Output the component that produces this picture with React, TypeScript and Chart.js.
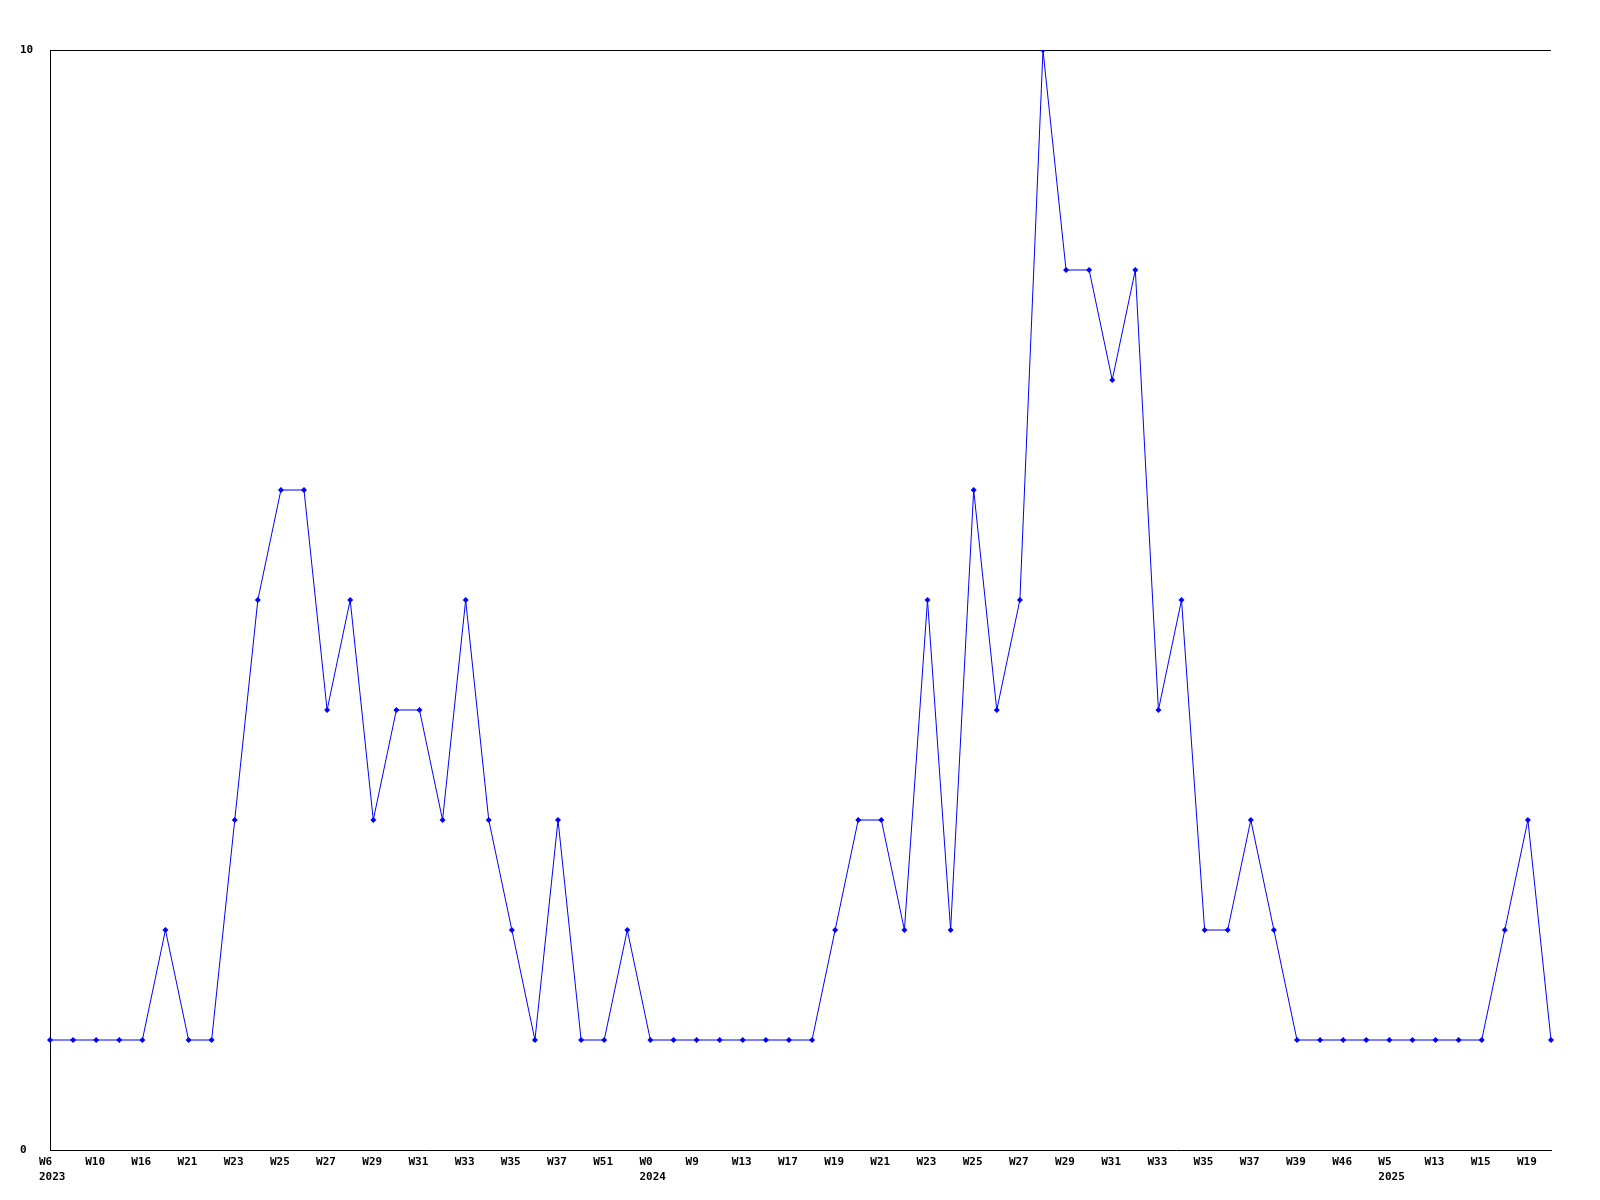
import React, { useEffect, useRef } from "react";
import { Chart, registerables } from "chart.js";

Chart.register(...registerables);

const weekLabels = ["W6","","W10","","W16","","W21","","W23","","W25","","W27","","W29","","W31","","W33","","W35","","W37","","W51","","W0","","W9","","W13","","W17","","W19","","W21","","W23","","W25","","W27","","W29","","W31","","W33","","W35","","W37","","W39","","W46","","W5","","W13","","W15","","W19",""];
const yearLabels: Record<number, string> = { 0: "2023", 26: "2024", 58: "2025" };
const values = [1,1,1,1,1,2,1,1,3,5,6,6,4,5,3,4,4,3,5,3,2,1,3,1,1,2,1,1,1,1,1,1,1,1,2,3,3,2,5,2,6,4,5,10,8,8,7,8,4,5,2,2,3,2,1,1,1,1,1,1,1,1,1,2,3,1];
const yTicks = [0, 10];

export default function App() {
  const ref = useRef<HTMLCanvasElement>(null);
  useEffect(() => {
    document.body.style.margin = "0";
    const labels = weekLabels.map((w, i) => (yearLabels[i] ? [w, yearLabels[i]] : w));
    const font = { family: "'DejaVu Sans Mono', monospace", size: 11, weight: "bold" as const, lineHeight: 1.32 };
    const chart = new Chart(ref.current!, {
      type: "line",
      data: {
        labels,
        datasets: [
          {
            data: values,
            borderColor: "#0000ff",
            backgroundColor: "#0000ff",
            borderWidth: 1,
            pointStyle: "rectRot",
            pointRadius: 3,
            pointBorderWidth: 0,
            tension: 0,
          },
        ],
      },
      options: {
        animation: false,
        responsive: false,
        layout: { padding: { left: 20, right: 49, top: 50, bottom: 0 } },
        plugins: { legend: { display: false }, tooltip: { enabled: false } },
        scales: {
          x: {
            offset: false,
            grid: { display: false, drawTicks: false },
            border: { display: true, color: "#000", width: 1 },
            ticks: {
              autoSkip: false,
              maxRotation: 0,
              minRotation: 0,
              align: "start",
              labelOffset: -11,
              padding: 5,
              color: "#000",
              font,
            },
            afterFit: (s: any) => {
              s.height = 50;
            },
          },
          y: {
            min: yTicks[0],
            max: yTicks[1],
            afterBuildTicks: (s: any) => {
              s.ticks = yTicks.map((v) => ({ value: v }));
            },
            grid: { color: "#000", drawTicks: false, lineWidth: (c: any) => (c.tick && c.tick.value === 10 ? 1 : 0) },
            border: { display: true, color: "#000", width: 1 },
            ticks: { crossAlign: "far", color: "#000", font: { ...font, lineHeight: 1.2 }, padding: 0 },
            afterFit: (s: any) => {
              s.width = 30;
            },
          },
        },
      },
    });
    return () => chart.destroy();
  }, []);
  return <canvas ref={ref} width={1600} height={1200} style={{ display: "block" }} />;
}
